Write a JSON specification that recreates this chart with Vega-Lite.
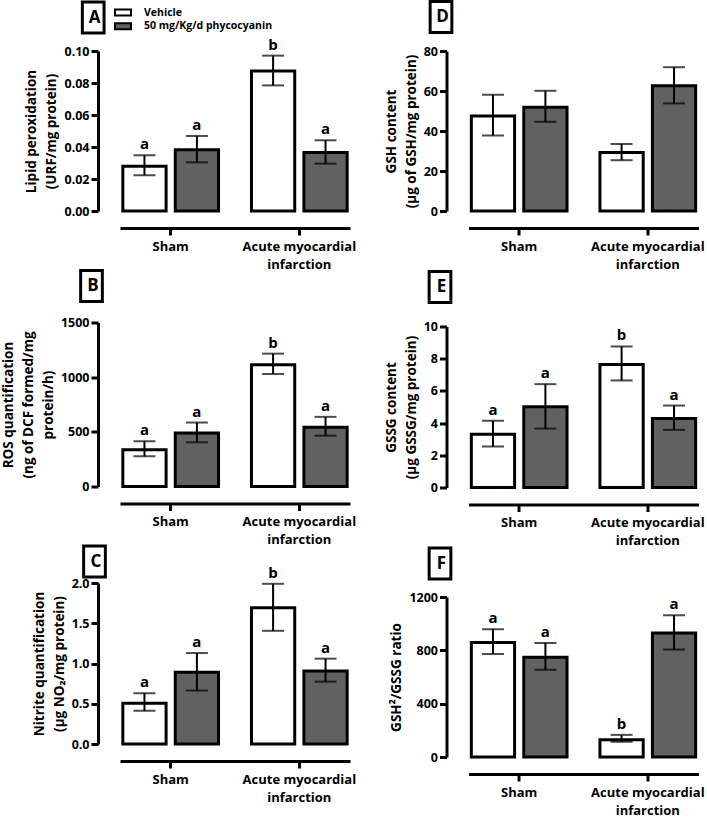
{
  "$schema": "https://vega.github.io/schema/vega-lite/v6.json",
  "padding": {"left": 1, "top": 0, "right": 0, "bottom": 0},
  "background": "white",
  "config": {
    "font": "Open Sans",
    "view": {"stroke": null},
    "axisY": {"offset": 22, "domainWidth": 3, "domainColor": "black", "tickWidth": 3, "tickColor": "black", "tickSize": 7, "tickCount": 20, "labelFontSize": 12.5, "labelFontWeight": "bold", "labelColor": "black", "labelPadding": 2, "labelOverlap": false, "titleFontSize": 13.5, "titleFontWeight": "bold", "titleColor": "black", "titleLineHeight": 20, "grid": false, "titlePadding": 5},
    "axisX": {"offset": 17, "domainWidth": 3, "domainColor": "black", "tickWidth": 3, "tickColor": "black", "tickSize": 7, "labelFontSize": 13, "labelFontWeight": "bold", "labelColor": "black", "labelAngle": 0, "labelPadding": 5, "labelLineHeight": 18, "grid": false, "title": null}
  },
  "data": {"values": [
    {"panel": "A", "group": "Sham", "treatment": "Vehicle", "mean": 0.0279, "lo": 0.0223, "hi": 0.0348, "letter": "a"},
    {"panel": "A", "group": "Sham", "treatment": "50 mg/Kg/d phycocyanin", "mean": 0.0383, "lo": 0.0304, "hi": 0.0469, "letter": "a"},
    {"panel": "A", "group": "AMI", "treatment": "Vehicle", "mean": 0.0875, "lo": 0.0785, "hi": 0.0971, "letter": "b"},
    {"panel": "A", "group": "AMI", "treatment": "50 mg/Kg/d phycocyanin", "mean": 0.0365, "lo": 0.0296, "hi": 0.0442, "letter": "a"},
    {"panel": "B", "group": "Sham", "treatment": "Vehicle", "mean": 337, "lo": 276, "hi": 413, "letter": "a"},
    {"panel": "B", "group": "Sham", "treatment": "50 mg/Kg/d phycocyanin", "mean": 490, "lo": 404, "hi": 585, "letter": "a"},
    {"panel": "B", "group": "AMI", "treatment": "Vehicle", "mean": 1114, "lo": 1029, "hi": 1215, "letter": "b"},
    {"panel": "B", "group": "AMI", "treatment": "50 mg/Kg/d phycocyanin", "mean": 542, "lo": 465, "hi": 637, "letter": "a"},
    {"panel": "C", "group": "Sham", "treatment": "Vehicle", "mean": 0.507, "lo": 0.412, "hi": 0.631, "letter": "a"},
    {"panel": "C", "group": "Sham", "treatment": "50 mg/Kg/d phycocyanin", "mean": 0.891, "lo": 0.664, "hi": 1.13, "letter": "a"},
    {"panel": "C", "group": "AMI", "treatment": "Vehicle", "mean": 1.691, "lo": 1.406, "hi": 1.99, "letter": "b"},
    {"panel": "C", "group": "AMI", "treatment": "50 mg/Kg/d phycocyanin", "mean": 0.907, "lo": 0.775, "hi": 1.06, "letter": "a"},
    {"panel": "D", "group": "Sham", "treatment": "Vehicle", "mean": 47.5, "lo": 37.7, "hi": 58.1, "letter": ""},
    {"panel": "D", "group": "Sham", "treatment": "50 mg/Kg/d phycocyanin", "mean": 51.9, "lo": 44.6, "hi": 60.1, "letter": ""},
    {"panel": "D", "group": "AMI", "treatment": "Vehicle", "mean": 29.2, "lo": 25.4, "hi": 33.5, "letter": ""},
    {"panel": "D", "group": "AMI", "treatment": "50 mg/Kg/d phycocyanin", "mean": 62.6, "lo": 53.8, "hi": 71.9, "letter": ""},
    {"panel": "E", "group": "Sham", "treatment": "Vehicle", "mean": 3.31, "lo": 2.55, "hi": 4.14, "letter": "a"},
    {"panel": "E", "group": "Sham", "treatment": "50 mg/Kg/d phycocyanin", "mean": 5.01, "lo": 3.66, "hi": 6.42, "letter": "a"},
    {"panel": "E", "group": "AMI", "treatment": "Vehicle", "mean": 7.64, "lo": 6.65, "hi": 8.76, "letter": "b"},
    {"panel": "E", "group": "AMI", "treatment": "50 mg/Kg/d phycocyanin", "mean": 4.29, "lo": 3.58, "hi": 5.09, "letter": "a"},
    {"panel": "F", "group": "Sham", "treatment": "Vehicle", "mean": 859, "lo": 773, "hi": 959, "letter": "a"},
    {"panel": "F", "group": "Sham", "treatment": "50 mg/Kg/d phycocyanin", "mean": 748, "lo": 654, "hi": 855, "letter": "a"},
    {"panel": "F", "group": "AMI", "treatment": "Vehicle", "mean": 129, "lo": 114, "hi": 166, "letter": "b"},
    {"panel": "F", "group": "AMI", "treatment": "50 mg/Kg/d phycocyanin", "mean": 930, "lo": 806, "hi": 1063, "letter": "a"}
  ]},
  "spacing": 27.5,
  "resolve": {"scale": {"fill": "independent", "strokeDash": "independent"}, "legend": {"fill": "independent", "strokeDash": "independent"}},
  "hconcat": [
    {
      "spacing": -2.5,
      "resolve": {"scale": {"fill": "independent", "strokeDash": "independent"}, "legend": {"fill": "independent", "strokeDash": "independent"}},
      "vconcat": [
        {
          "width": 230, "height": 160,
          "transform": [{"filter": "datum.panel == 'A'"}],
          "encoding": {
            "x": {"field": "group", "type": "nominal", "sort": ["Sham", "AMI"], "scale": {"paddingInner": 0.256, "paddingOuter": 0.022}, "axis": {"labelExpr": "datum.value == 'AMI' ? ['Acute myocardial', 'infarction'] : datum.value"}},
            "xOffset": {"field": "treatment", "type": "nominal", "sort": ["Vehicle", "50 mg/Kg/d phycocyanin"], "scale": {"paddingInner": 0.175, "paddingOuter": 0}}
          },
          "layer": [
            {"mark": {"type": "bar", "stroke": "black", "strokeWidth": 3},
             "encoding": {
               "y": {"field": "mean", "type": "quantitative", "scale": {"domain": [0, 0.1], "nice": false}, "axis": {"values": [0, 0.02, 0.04, 0.06, 0.08, 0.1], "tickCount": 20, "labelOverlap": false, "format": ".2f", "title": ["Lipid peroxidation", "(URF/mg protein)"]}},
               "fill": {"field": "treatment", "type": "nominal", "sort": ["Vehicle", "50 mg/Kg/d phycocyanin"], "scale": {"domain": ["Vehicle", "50 mg/Kg/d phycocyanin"], "range": ["white", "#616161"]}, "legend": {"orient": "none", "legendX": -6, "legendY": -44.4, "title": null, "symbolType": "M-1.6,-0.6H1.6V0.6H-1.6Z", "symbolSize": 100, "symbolOffset": 3, "symbolStrokeColor": "black", "symbolStrokeWidth": 2, "labelFontSize": 10.5, "labelFontWeight": "bold", "labelColor": "black", "labelOffset": 15, "rowPadding": -0.3, "padding": 0}},
               "strokeDash": {"datum": "A", "scale": {"domain": ["A"], "range": [[1, 0]]}, "legend": {"orient": "none", "legendX": -43.8, "legendY": -50.5, "title": null, "symbolType": "M-0.7,-1H0.7V1H-0.7Z", "symbolSize": 961, "symbolStrokeColor": "black", "symbolStrokeWidth": 3, "symbolFillColor": "white", "symbolOpacity": 1, "labelAlign": "center", "labelOffset": -15.5, "labelFontSize": 17, "labelFontWeight": "bold", "labelColor": "black", "padding": 0}}
             }},
            {"mark": {"type": "rule", "color": "black", "strokeWidth": 2}, "encoding": {"y": {"field": "lo", "type": "quantitative"}, "y2": {"field": "hi"}}},
            {"mark": {"type": "tick", "color": "black", "thickness": 2, "size": 22}, "encoding": {"y": {"field": "lo", "type": "quantitative"}}},
            {"mark": {"type": "tick", "color": "black", "thickness": 2, "size": 22}, "encoding": {"y": {"field": "hi", "type": "quantitative"}}},
            {"mark": {"type": "text", "fontSize": 15, "fontWeight": "bold", "color": "black", "baseline": "alphabetic", "dy": -6}, "encoding": {"y": {"field": "hi", "type": "quantitative"}, "text": {"field": "letter"}}}
          ]
        },
        {
          "width": 230, "height": 164,
          "transform": [{"filter": "datum.panel == 'B'"}],
          "encoding": {
            "x": {"field": "group", "type": "nominal", "sort": ["Sham", "AMI"], "scale": {"paddingInner": 0.256, "paddingOuter": 0.022}, "axis": {"labelExpr": "datum.value == 'AMI' ? ['Acute myocardial', 'infarction'] : datum.value"}},
            "xOffset": {"field": "treatment", "type": "nominal", "sort": ["Vehicle", "50 mg/Kg/d phycocyanin"], "scale": {"paddingInner": 0.175, "paddingOuter": 0}}
          },
          "layer": [
            {"mark": {"type": "bar", "stroke": "black", "strokeWidth": 3},
             "encoding": {
               "y": {"field": "mean", "type": "quantitative", "scale": {"domain": [0, 1500], "nice": false}, "axis": {"values": [0, 500, 1000, 1500], "tickCount": 20, "labelOverlap": false, "format": "d", "title": ["ROS quantification", "(ng of DCF formed/mg", "protein/h)"]}},
               "fill": {"field": "treatment", "type": "nominal", "scale": {"domain": ["Vehicle", "50 mg/Kg/d phycocyanin"], "range": ["white", "#616161"]}, "legend": null},
               "strokeDash": {"datum": "B", "scale": {"domain": ["B"], "range": [[1, 0]]}, "legend": {"orient": "none", "legendX": -45.5, "legendY": -53.5, "title": null, "symbolType": "M-0.7,-1H0.7V1H-0.7Z", "symbolSize": 961, "symbolStrokeColor": "black", "symbolStrokeWidth": 3, "symbolFillColor": "white", "symbolOpacity": 1, "labelAlign": "center", "labelOffset": -15.5, "labelFontSize": 17, "labelFontWeight": "bold", "labelColor": "black", "padding": 0}}
             }},
            {"mark": {"type": "rule", "color": "black", "strokeWidth": 2}, "encoding": {"y": {"field": "lo", "type": "quantitative"}, "y2": {"field": "hi"}}},
            {"mark": {"type": "tick", "color": "black", "thickness": 2, "size": 22}, "encoding": {"y": {"field": "lo", "type": "quantitative"}}},
            {"mark": {"type": "tick", "color": "black", "thickness": 2, "size": 22}, "encoding": {"y": {"field": "hi", "type": "quantitative"}}},
            {"mark": {"type": "text", "fontSize": 15, "fontWeight": "bold", "color": "black", "baseline": "alphabetic", "dy": -6}, "encoding": {"y": {"field": "hi", "type": "quantitative"}, "text": {"field": "letter"}}}
          ]
        },
        {
          "width": 230, "height": 161,
          "transform": [{"filter": "datum.panel == 'C'"}],
          "encoding": {
            "x": {"field": "group", "type": "nominal", "sort": ["Sham", "AMI"], "scale": {"paddingInner": 0.256, "paddingOuter": 0.022}, "axis": {"labelExpr": "datum.value == 'AMI' ? ['Acute myocardial', 'infarction'] : datum.value"}},
            "xOffset": {"field": "treatment", "type": "nominal", "sort": ["Vehicle", "50 mg/Kg/d phycocyanin"], "scale": {"paddingInner": 0.175, "paddingOuter": 0}}
          },
          "layer": [
            {"mark": {"type": "bar", "stroke": "black", "strokeWidth": 3},
             "encoding": {
               "y": {"field": "mean", "type": "quantitative", "scale": {"domain": [0, 2], "nice": false}, "axis": {"values": [0, 0.5, 1, 1.5, 2], "tickCount": 20, "labelOverlap": false, "format": ".1f", "title": ["Nitrite quantification", "(µg NO₂/mg protein)"]}},
               "fill": {"field": "treatment", "type": "nominal", "scale": {"domain": ["Vehicle", "50 mg/Kg/d phycocyanin"], "range": ["white", "#616161"]}, "legend": null},
               "strokeDash": {"datum": "C", "scale": {"domain": ["C"], "range": [[1, 0]]}, "legend": {"orient": "none", "legendX": -42.5, "legendY": -38.5, "title": null, "symbolType": "M-0.7,-1H0.7V1H-0.7Z", "symbolSize": 961, "symbolStrokeColor": "black", "symbolStrokeWidth": 3, "symbolFillColor": "white", "symbolOpacity": 1, "labelAlign": "center", "labelOffset": -15.5, "labelFontSize": 17, "labelFontWeight": "bold", "labelColor": "black", "padding": 0}}
             }},
            {"mark": {"type": "rule", "color": "black", "strokeWidth": 2}, "encoding": {"y": {"field": "lo", "type": "quantitative"}, "y2": {"field": "hi"}}},
            {"mark": {"type": "tick", "color": "black", "thickness": 2, "size": 22}, "encoding": {"y": {"field": "lo", "type": "quantitative"}}},
            {"mark": {"type": "tick", "color": "black", "thickness": 2, "size": 22}, "encoding": {"y": {"field": "hi", "type": "quantitative"}}},
            {"mark": {"type": "text", "fontSize": 15, "fontWeight": "bold", "color": "black", "baseline": "alphabetic", "dy": -6}, "encoding": {"y": {"field": "hi", "type": "quantitative"}, "text": {"field": "letter"}}}
          ]
        }
      ]
    },
    {
      "spacing": -1.5,
      "resolve": {"scale": {"fill": "independent", "strokeDash": "independent"}, "legend": {"fill": "independent", "strokeDash": "independent"}},
      "vconcat": [
        {
          "width": 230, "height": 160,
          "transform": [{"filter": "datum.panel == 'D'"}],
          "encoding": {
            "x": {"field": "group", "type": "nominal", "sort": ["Sham", "AMI"], "scale": {"paddingInner": 0.256, "paddingOuter": 0.022}, "axis": {"labelExpr": "datum.value == 'AMI' ? ['Acute myocardial', 'infarction'] : datum.value"}},
            "xOffset": {"field": "treatment", "type": "nominal", "sort": ["Vehicle", "50 mg/Kg/d phycocyanin"], "scale": {"paddingInner": 0.175, "paddingOuter": 0}}
          },
          "layer": [
            {"mark": {"type": "bar", "stroke": "black", "strokeWidth": 3},
             "encoding": {
               "y": {"field": "mean", "type": "quantitative", "scale": {"domain": [0, 80], "nice": false}, "axis": {"values": [0, 20, 40, 60, 80], "tickCount": 20, "labelOverlap": false, "format": "d", "title": ["GSH content", "(µg of GSH/mg protein)"]}},
               "fill": {"field": "treatment", "type": "nominal", "scale": {"domain": ["Vehicle", "50 mg/Kg/d phycocyanin"], "range": ["white", "#616161"]}, "legend": null},
               "strokeDash": {"datum": "D", "scale": {"domain": ["D"], "range": [[1, 0]]}, "legend": {"orient": "none", "legendX": -44.5, "legendY": -51, "title": null, "symbolType": "M-0.7,-1H0.7V1H-0.7Z", "symbolSize": 961, "symbolStrokeColor": "black", "symbolStrokeWidth": 3, "symbolFillColor": "white", "symbolOpacity": 1, "labelAlign": "center", "labelOffset": -15.5, "labelFontSize": 17, "labelFontWeight": "bold", "labelColor": "black", "padding": 0}}
             }},
            {"mark": {"type": "rule", "color": "black", "strokeWidth": 2}, "encoding": {"y": {"field": "lo", "type": "quantitative"}, "y2": {"field": "hi"}}},
            {"mark": {"type": "tick", "color": "black", "thickness": 2, "size": 22}, "encoding": {"y": {"field": "lo", "type": "quantitative"}}},
            {"mark": {"type": "tick", "color": "black", "thickness": 2, "size": 22}, "encoding": {"y": {"field": "hi", "type": "quantitative"}}}
          ]
        },
        {
          "width": 230, "height": 161,
          "transform": [{"filter": "datum.panel == 'E'"}],
          "encoding": {
            "x": {"field": "group", "type": "nominal", "sort": ["Sham", "AMI"], "scale": {"paddingInner": 0.256, "paddingOuter": 0.022}, "axis": {"labelExpr": "datum.value == 'AMI' ? ['Acute myocardial', 'infarction'] : datum.value"}},
            "xOffset": {"field": "treatment", "type": "nominal", "sort": ["Vehicle", "50 mg/Kg/d phycocyanin"], "scale": {"paddingInner": 0.175, "paddingOuter": 0}}
          },
          "layer": [
            {"mark": {"type": "bar", "stroke": "black", "strokeWidth": 3},
             "encoding": {
               "y": {"field": "mean", "type": "quantitative", "scale": {"domain": [0, 10], "nice": false}, "axis": {"values": [0, 2, 4, 6, 8, 10], "tickCount": 20, "labelOverlap": false, "format": "d", "title": ["GSSG content", "(µg GSSG/mg protein)"]}},
               "fill": {"field": "treatment", "type": "nominal", "scale": {"domain": ["Vehicle", "50 mg/Kg/d phycocyanin"], "range": ["white", "#616161"]}, "legend": null},
               "strokeDash": {"datum": "E", "scale": {"domain": ["E"], "range": [[1, 0]]}, "legend": {"orient": "none", "legendX": -45.5, "legendY": -56.5, "title": null, "symbolType": "M-0.7,-1H0.7V1H-0.7Z", "symbolSize": 961, "symbolStrokeColor": "black", "symbolStrokeWidth": 3, "symbolFillColor": "white", "symbolOpacity": 1, "labelAlign": "center", "labelOffset": -15.5, "labelFontSize": 17, "labelFontWeight": "bold", "labelColor": "black", "padding": 0}}
             }},
            {"mark": {"type": "rule", "color": "black", "strokeWidth": 2}, "encoding": {"y": {"field": "lo", "type": "quantitative"}, "y2": {"field": "hi"}}},
            {"mark": {"type": "tick", "color": "black", "thickness": 2, "size": 22}, "encoding": {"y": {"field": "lo", "type": "quantitative"}}},
            {"mark": {"type": "tick", "color": "black", "thickness": 2, "size": 22}, "encoding": {"y": {"field": "hi", "type": "quantitative"}}},
            {"mark": {"type": "text", "fontSize": 15, "fontWeight": "bold", "color": "black", "baseline": "alphabetic", "dy": -6}, "encoding": {"y": {"field": "hi", "type": "quantitative"}, "text": {"field": "letter"}}}
          ]
        },
        {
          "width": 230, "height": 160,
          "transform": [{"filter": "datum.panel == 'F'"}],
          "encoding": {
            "x": {"field": "group", "type": "nominal", "sort": ["Sham", "AMI"], "scale": {"paddingInner": 0.256, "paddingOuter": 0.022}, "axis": {"labelExpr": "datum.value == 'AMI' ? ['Acute myocardial', 'infarction'] : datum.value"}},
            "xOffset": {"field": "treatment", "type": "nominal", "sort": ["Vehicle", "50 mg/Kg/d phycocyanin"], "scale": {"paddingInner": 0.175, "paddingOuter": 0}}
          },
          "layer": [
            {"mark": {"type": "bar", "stroke": "black", "strokeWidth": 3},
             "encoding": {
               "y": {"field": "mean", "type": "quantitative", "scale": {"domain": [0, 1200], "nice": false}, "axis": {"values": [0, 400, 800, 1200], "tickCount": 20, "labelOverlap": false, "format": "d", "title": "GSH²/GSSG ratio"}},
               "fill": {"field": "treatment", "type": "nominal", "scale": {"domain": ["Vehicle", "50 mg/Kg/d phycocyanin"], "range": ["white", "#616161"]}, "legend": null},
               "strokeDash": {"datum": "F", "scale": {"domain": ["F"], "range": [[1, 0]]}, "legend": {"orient": "none", "legendX": -45.5, "legendY": -50.5, "title": null, "symbolType": "M-0.7,-1H0.7V1H-0.7Z", "symbolSize": 961, "symbolStrokeColor": "black", "symbolStrokeWidth": 3, "symbolFillColor": "white", "symbolOpacity": 1, "labelAlign": "center", "labelOffset": -15.5, "labelFontSize": 17, "labelFontWeight": "bold", "labelColor": "black", "padding": 0}}
             }},
            {"mark": {"type": "rule", "color": "black", "strokeWidth": 2}, "encoding": {"y": {"field": "lo", "type": "quantitative"}, "y2": {"field": "hi"}}},
            {"mark": {"type": "tick", "color": "black", "thickness": 2, "size": 22}, "encoding": {"y": {"field": "lo", "type": "quantitative"}}},
            {"mark": {"type": "tick", "color": "black", "thickness": 2, "size": 22}, "encoding": {"y": {"field": "hi", "type": "quantitative"}}},
            {"mark": {"type": "text", "fontSize": 15, "fontWeight": "bold", "color": "black", "baseline": "alphabetic", "dy": -6}, "encoding": {"y": {"field": "hi", "type": "quantitative"}, "text": {"field": "letter"}}}
          ]
        }
      ]
    }
  ]
}
